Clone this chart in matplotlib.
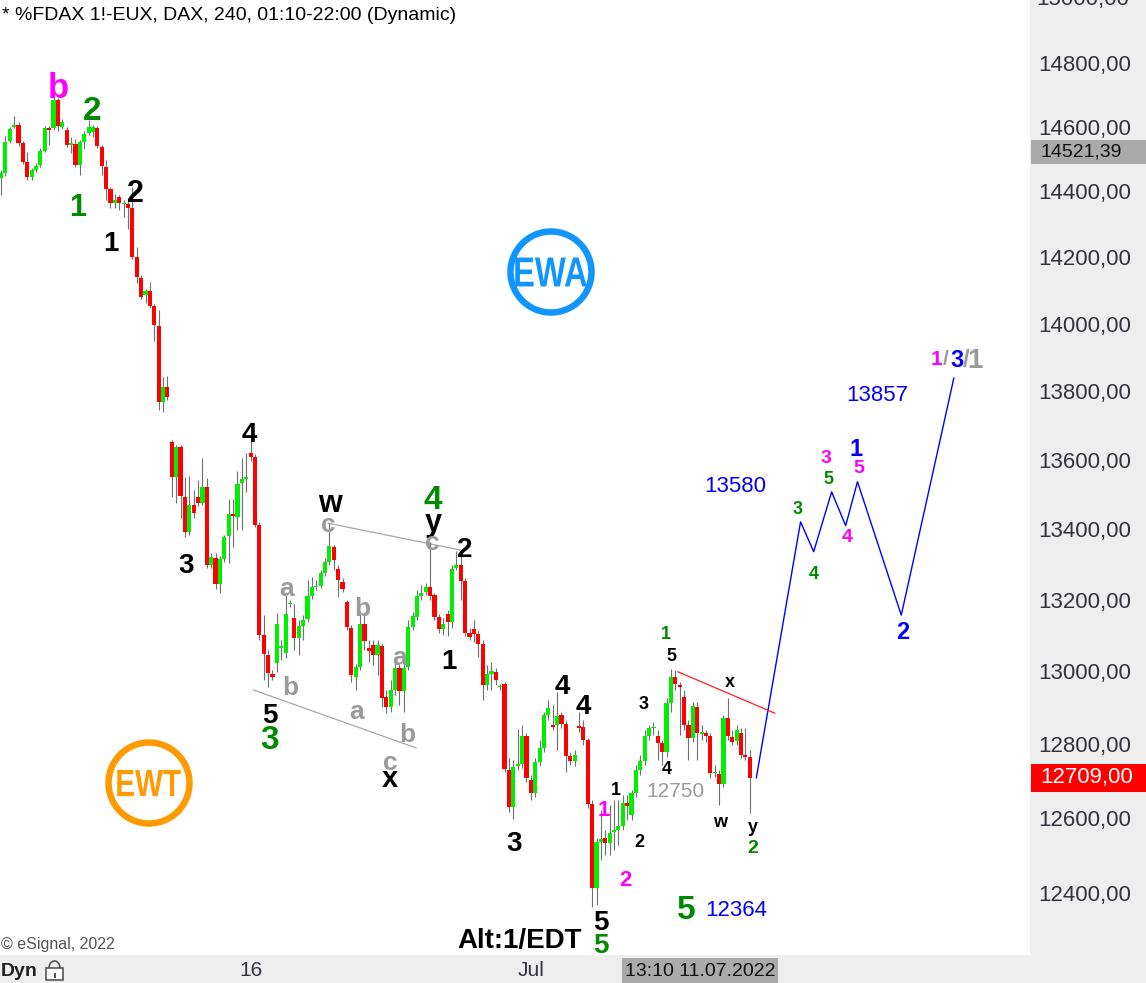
import numpy as np
import matplotlib
matplotlib.use("Agg")
import matplotlib.pyplot as plt
from matplotlib.patches import Circle, Rectangle, Arc, PathPatch
from matplotlib.transforms import blended_transform_factory, IdentityTransform, Affine2D
from matplotlib.ticker import FixedLocator, NullLocator
from matplotlib.textpath import TextPath
from matplotlib.font_manager import FontProperties

plt.rcParams['font.family'] = ['Liberation Sans', 'DejaVu Sans']

# 4h candles, DAX future, early June -> 11.07.2022 13:10
opens = [14441, 14457, 14555, 14598, 14604, 14549, 14491, 14444, 14466, 14481,
         14524, 14595, 14595, 14683, 14598, 14589, 14543, 14546, 14481, 14552,
         14580, 14583, 14595, 14536, 14475, 14407, 14364, 14382, 14361, 14361,
         14349, 14201, 14136, 14085, 14097, 14052, 13993, 13769, 13813, 13651,
         13550, 13637, 13493, 13392, 13469, 13493, 13474, 13522, 13297, 13319,
         13245, 13316, 13380, 13443, 13435, 13533, 13544, 13618, 13609, 13412,
         13102, 13046, 12994, 13024, 13065, 13052, 13189, 13149, 13094, 13127,
         13146, 13211, 13236, 13239, 13275, 13308, 13349, 13288, 13250, 13194,
         13121, 12986, 13013, 13132, 13065, 13074, 13046, 13071, 12929, 12902,
         12948, 13010, 12945, 13013, 13124, 13152, 13211, 13222, 13236, 13214,
         13152, 13119, 13160, 13138, 13291, 13297, 13253, 13108, 13119, 13105,
         13076, 12962, 12994, 12999, 12956, 12964, 12730, 12630, 12741, 12746,
         12823, 12703, 12668, 12752, 12790, 12879, 12853, 12853, 12879, 12855,
         12768, 12754, 12850, 12847, 12812, 12638, 12414, 12537, 12547, 12534,
         12563, 12568, 12580, 12641, 12609, 12668, 12730, 12754, 12823, 12844,
         12823, 12804, 12778, 12913, 12986, 12962, 12929, 12853, 12817, 12902,
         12828, 12831, 12823, 12722, 12719, 12692, 12871, 12820, 12809, 12831,
         12770, 12765]
closes = [14457, 14552, 14592, 14604, 14549, 14491, 14444, 14466, 14478, 14524,
          14595, 14589, 14683, 14601, 14614, 14543, 14549, 14481, 14552, 14577,
          14598, 14598, 14540, 14478, 14407, 14364, 14373, 14364, 14364, 14349,
          14201, 14139, 14079, 14097, 14052, 13996, 13769, 13813, 13784, 13550,
          13637, 13496, 13392, 13469, 13446, 13474, 13522, 13297, 13322, 13245,
          13316, 13377, 13443, 13437, 13530, 13544, 13550, 13609, 13412, 13102,
          13049, 12997, 12986, 13132, 13071, 13160, 13192, 13094, 13127, 13143,
          13211, 13236, 13239, 13275, 13308, 13352, 13311, 13256, 13231, 13124,
          12991, 13013, 13132, 13085, 13057, 13046, 13074, 12926, 12902, 12948,
          13010, 12945, 13010, 13124, 13154, 13211, 13220, 13236, 13211, 13152,
          13119, 13132, 13138, 13286, 13297, 13253, 13108, 13096, 13105, 13076,
          12962, 12994, 13002, 12975, 12959, 12733, 12630, 12738, 12746, 12823,
          12708, 12668, 12752, 12790, 12879, 12899, 12847, 12877, 12855, 12768,
          12754, 12770, 12844, 12812, 12638, 12414, 12537, 12544, 12534, 12560,
          12568, 12580, 12641, 12633, 12668, 12730, 12754, 12823, 12844, 12847,
          12804, 12778, 12913, 12986, 12964, 12956, 12853, 12817, 12905, 12831,
          12833, 12823, 12722, 12725, 12692, 12871, 12823, 12806, 12839, 12770,
          12765, 12709]
highs = [14466, 14570, 14598, 14632, 14614, 14555, 14521, 14472, 14488, 14533,
         14601, 14601, 14705, 14689, 14623, 14598, 14567, 14561, 14558, 14586,
         14620, 14604, 14601, 14543, 14497, 14413, 14392, 14388, 14373, 14379,
         14413, 14231, 14145, 14103, 14124, 14058, 14040, 13842, 13845, 13657,
         13643, 13643, 13550, 13553, 13513, 13541, 13604, 13547, 13333, 13333,
         13324, 13383, 13486, 13486, 13567, 13604, 13620, 13674, 13615, 13420,
         13157, 13060, 13005, 13163, 13088, 13222, 13200, 13189, 13143, 13157,
         13256, 13264, 13256, 13284, 13319, 13418, 13355, 13299, 13261, 13200,
         13129, 13021, 13160, 13165, 13088, 13088, 13088, 13079, 12948, 12975,
         13032, 13021, 13046, 13143, 13165, 13228, 13242, 13247, 13363, 13220,
         13160, 13149, 13171, 13299, 13338, 13338, 13261, 13121, 13143, 13116,
         13088, 13019, 13027, 13010, 12964, 12970, 12762, 12757, 12842, 12853,
         12831, 12716, 12762, 12812, 12889, 12921, 12907, 12943, 12889, 12866,
         12778, 12785, 12889, 12866, 12817, 12649, 12547, 12622, 12568, 12635,
         12649, 12649, 12662, 12662, 12676, 12744, 12770, 12839, 12853, 12861,
         12839, 12812, 12926, 13008, 13005, 12970, 12948, 12866, 12915, 12915,
         12853, 12839, 12831, 12744, 12730, 12879, 12926, 12839, 12853, 12844,
         12844, 12785]
lows = [14389, 14447, 14549, 14595, 14540, 14485, 14435, 14435, 14460, 14475,
        14521, 14543, 14589, 14586, 14592, 14536, 14518, 14475, 14450, 14530,
        14574, 14567, 14533, 14450, 14373, 14349, 14349, 14343, 14322, 14285,
        14195, 14121, 14073, 14061, 14046, 13949, 13744, 13738, 13775, 13493,
        13476, 13432, 13377, 13383, 13432, 13466, 13469, 13291, 13291, 13231,
        13220, 13308, 13305, 13349, 13398, 13398, 13507, 13595, 13406, 13088,
        12975, 12956, 12975, 12999, 13032, 13038, 13180, 13060, 13046, 13088,
        13138, 13203, 13228, 13234, 13267, 13299, 13284, 13208, 13222, 13116,
        12970, 12948, 13005, 13060, 13027, 13019, 12991, 12902, 12886, 12888,
        12934, 12907, 12888, 13005, 13116, 13143, 13200, 13214, 13200, 13143,
        13108, 13102, 13099, 13121, 13284, 13200, 13099, 13088, 13083, 13040,
        12921, 12948, 12948, 12962, 12948, 12725, 12617, 12599, 12730, 12736,
        12698, 12649, 12657, 12741, 12778, 12866, 12839, 12785, 12844, 12725,
        12744, 12741, 12833, 12799, 12627, 12364, 12368, 12489, 12502, 12502,
        12515, 12528, 12568, 12596, 12596, 12657, 12717, 12744, 12812, 12826,
        12757, 12744, 12765, 12889, 12948, 12826, 12839, 12757, 12806, 12757,
        12812, 12806, 12708, 12711, 12635, 12685, 12812, 12799, 12799, 12762,
        12757, 12614]

# projected wave path (bar index, price)
proj_x = [172.5, 182.6, 185.6, 189.7, 192.9, 195.6, 205.6, 217.6]
proj_y = [12709, 13421, 13336, 13507, 13410, 13536, 13157, 13838]

# trend lines
red_x, red_y = [154.6, 176.7], [12999, 12885]
upper_x, upper_y = [74.7, 104.8], [13417, 13341]
lower_x, lower_y = [57.6, 94.8], [12949, 12790]

y_ticks = [12400, 12600, 12800, 13000, 13200, 13400, 13600, 13800, 14000, 14200, 14400, 14600, 14800]
date_ticks = [57, 121]
date_labels = ['16', 'Jul']
last_price = 12709.00
marker_price = 14521.39

GREEN = '#008a00'
MAG = '#ff00ff'
GRAY = '#9a9a9a'
BLUE = '#0000ff'

# wave labels: (bar index, price, text, colour, size)
wave_labels = [
    (13.0, 14730, 'b', MAG, 25), (20.8, 14658, '2', GREEN, 24), (17.4, 14361, '1', GREEN, 22),
    (30.6, 14404, '2', 'black', 22), (25.1, 14248, '1', 'black', 20),
    (56.8, 13680, '4', 'black', 20), (42.2, 13304, '3', 'black', 20),
    (75.1, 13481, 'w', 'black', 22), (74.7, 13420, 'c', GRAY, 19),
    (98.6, 13492, '4', GREEN, 24), (98.6, 13429, 'y', 'black', 22), (98.4, 13369, 'c', GRAY, 19),
    (105.9, 13349, '2', 'black', 20), (65.3, 13236, 'a', GRAY, 19), (82.4, 13182, 'b', GRAY, 19),
    (91.1, 13043, 'a', GRAY, 19), (102.3, 13034, '1', 'black', 20), (66.0, 12960, 'b', GRAY, 19),
    (81.1, 12896, 'a', GRAY, 19), (61.4, 12885, '5', 'black', 20), (61.4, 12819, '3', GREEN, 24),
    (92.9, 12831, 'b', GRAY, 19), (88.8, 12757, 'c', GRAY, 19), (88.8, 12713, 'x', 'black', 21),
    (117.1, 12539, '3', 'black', 20), (128.3, 12965, '4', 'black', 20), (132.9, 12910, '4', 'black', 20),
    (137.7, 12627, '1', MAG, 16), (142.7, 12440, '2', MAG, 16),
    (140.4, 12681, '1', 'black', 13), (145.9, 12539, '2', 'black', 13), (146.8, 12913, '3', 'black', 13),
    (152.1, 12738, '4', 'black', 13), (151.8, 13107, '1', GREEN, 13), (153.0, 13048, '5', 'black', 13),
    (166.4, 12974, 'x', 'black', 13), (164.2, 12595, 'w', 'black', 13), (171.7, 12579, 'y', 'black', 13),
    (171.7, 12525, '2', GREEN, 14), (156.4, 12364, '5', GREEN, 24),
    (137.0, 12329, '5', 'black', 20), (137.0, 12269, '5', GREEN, 20),
    (182.0, 13463, '3', GREEN, 13), (185.6, 13278, '4', GREEN, 13), (188.4, 13610, '3', MAG, 14),
    (189.0, 13547, '5', GREEN, 13), (195.2, 13637, '1', BLUE, 17), (195.9, 13579, '5', MAG, 14),
    (193.2, 13383, '4', MAG, 14), (206.0, 13115, '2', BLUE, 17),
    (213.7, 13898, '1', MAG, 15), (215.8, 13898, '/', GRAY, 15), (218.3, 13898, '3', BLUE, 17),
    (220.3, 13898, '/', GRAY, 17), (222.4, 13898, '1', GRAY, 20),
]
# plain price notes: (bar index, price, text, colour)
price_notes = [(154.1, 12678, '12750', GRAY), (168.0, 12361, '12364', BLUE),
               (167.6, 13530, '13580', BLUE), (200.2, 13794, '13857', BLUE)]

W, H = 1146, 983
fig = plt.figure(figsize=(W / 100, H / 100), dpi=100, facecolor='#eeeeee')
ax = fig.add_axes([0, 28 / H, 1030 / W, 955 / H])
ax.set_facecolor('white')
for s in ax.spines.values():
    s.set_visible(False)

ax.set_yscale('log')
ax.set_ylim(12238, 14999)
ax.set_xlim(-0.23, 235)

x = np.arange(len(opens))
o = np.array(opens, float)
c = np.array(closes, float)
ax.vlines(x, lows, highs, color='#707070', lw=0.8, zorder=2)
cols = np.where(c >= o, '#00ee00', '#ff0000')
ax.bar(x, c - o, bottom=o, width=0.95, color=cols, linewidth=0, zorder=3)

ax.plot(proj_x, proj_y, color=BLUE, lw=1.0, zorder=4)
ax.plot(red_x, red_y, color='#ff2020', lw=0.9, zorder=4)
ax.plot(upper_x, upper_y, color='#a8a8a8', lw=0.9, zorder=1)
ax.plot(lower_x, lower_y, color='#a8a8a8', lw=0.9, zorder=1)

for bx, py, t, col, sz in wave_labels:
    ax.text(bx, py, t, color=col, fontsize=sz, fontweight='bold', ha='center',
            va='center_baseline', zorder=5)
for bx, py, t, col in price_notes:
    ax.text(bx, py, t, color=col, fontsize=16 if col == BLUE else 15, ha='center',
            va='center_baseline', zorder=5)
ax.text(118.5, 12282, 'Alt:1/EDT', color='black', fontsize=20, fontweight='bold',
        ha='center', va='center_baseline')

# right price axis
ax.yaxis.tick_right()
ax.yaxis.set_major_locator(FixedLocator(y_ticks))
ax.yaxis.set_minor_locator(NullLocator())
ax.set_yticklabels([f'{v},00' for v in y_ticks])
ax.tick_params(axis='y', length=0, pad=6, labelsize=16, labelcolor='#333340')
bt = blended_transform_factory(fig.transFigure, ax.transData)
ax.text(1036 / W, 15000, '15000,00', transform=bt, fontsize=16, color='#333340',
        va='center', ha='left', clip_on=False)

# marker boxes on price axis
ax.plot([1031 / W, 1.0], [marker_price, marker_price], transform=bt, color='#aaaaaa',
        lw=24 * 0.72, solid_capstyle='butt', clip_on=False)
ax.text(1040 / W, marker_price, '14521,39', transform=bt, fontsize=14, color='#111111',
        va='center', ha='left', clip_on=False)
ax.plot([1031 / W, 1.0], [last_price, last_price], transform=bt, color='#ff0000',
        lw=28 * 0.72, solid_capstyle='butt', clip_on=False)
ax.text(1040 / W, last_price, '12709,00', transform=bt, fontsize=16, color='white',
        va='center', ha='left', clip_on=False)

# date axis
ax.set_xticks(date_ticks)
ax.set_xticklabels(date_labels)
ax.tick_params(axis='x', length=0, pad=4, labelsize=15, labelcolor='#333340')

ident = IdentityTransform()
fig.patches.append(Rectangle((622, 0), 156, 25, transform=ident, facecolor='#aaaaaa',
                             edgecolor='none', figure=fig))
fig.text(700, 12, '13:10 11.07.2022', transform=ident, fontsize=14, color='#111111',
         ha='center', va='center')
fig.text(1, 12, 'Dyn', transform=ident, fontsize=14, fontweight='bold', color='#222222',
         ha='left', va='center')
# lock icon
fig.patches.append(Rectangle((46, 3), 17, 12, transform=ident, facecolor='white',
                             edgecolor='#555555', lw=1.2, figure=fig))
fig.patches.append(Arc((54.5, 15), 11, 14, theta1=0, theta2=180, transform=ident,
                       edgecolor='#555555', lw=1.2, figure=fig))
fig.patches.append(Rectangle((53.5, 5), 2, 5, transform=ident, facecolor='#555555',
                             edgecolor='none', figure=fig))

fig.text(1, H - 944, '\u00a9 eSignal, 2022', transform=ident, fontsize=11.5, color='#555555',
         ha='left', va='center')
fig.text(2, H - 15, '* %FDAX 1!-EUX, DAX, 240, 01:10-22:00 (Dynamic)', transform=ident,
         fontsize=14, color='black', ha='left', va='center')

# logos: ring plus horizontally condensed bold lettering
logo_font = FontProperties(family='Liberation Sans', weight='bold')
for cx, cy, col, txt, size, sx in [(551, H - 272, '#1196ff', 'EWA', 42, 0.78),
                                   (149, H - 783, '#ff9a00', 'EWT', 38, 0.78)]:
    fig.patches.append(Circle((cx, cy), 40.5, transform=ident, facecolor='white',
                              edgecolor=col, lw=6.5 * 0.72, figure=fig))
    tp = TextPath((0, 0), txt, size=size, prop=logo_font)
    ext = tp.get_extents()
    tr = (Affine2D().translate(-(ext.x0 + ext.x1) / 2, -(ext.y0 + ext.y1) / 2)
          .scale(sx, 1.0).translate(cx, cy) + ident)
    fig.patches.append(PathPatch(tp, transform=tr, facecolor=col, edgecolor='none', figure=fig))

fig.savefig('out.png', dpi=100)
